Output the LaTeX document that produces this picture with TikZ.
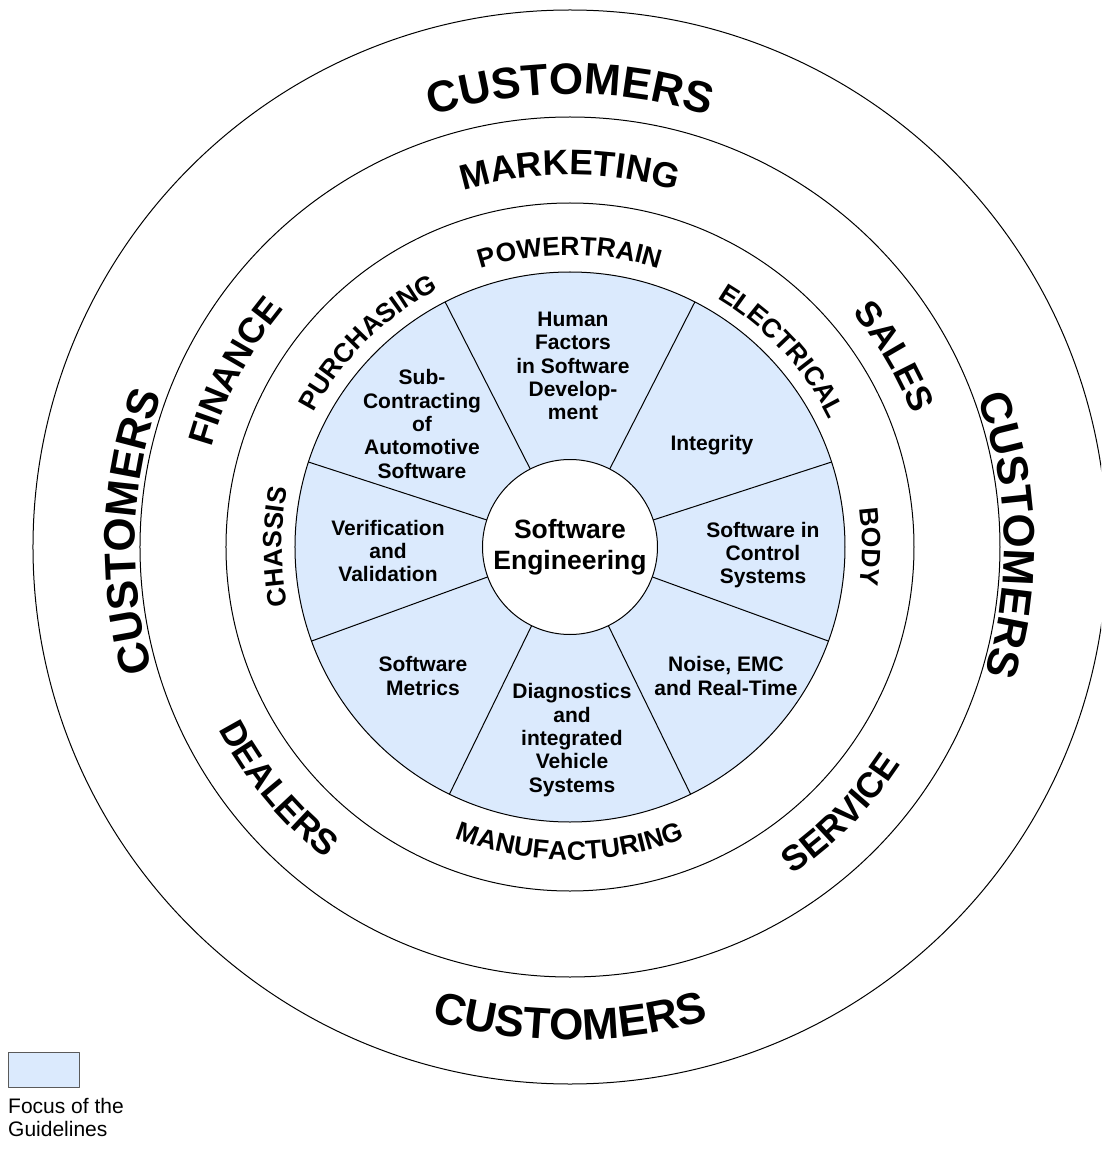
\documentclass[tikz,border=0pt]{standalone}
\usepackage{fontspec}
\setmainfont{Liberation Sans}
\usepackage{xcolor}
\usetikzlibrary{decorations.text}
\definecolor{focusblue}{RGB}{219,234,253}
\definecolor{keygray}{RGB}{90,90,90}
\newcommand{\custfont}{\fontsize{44}{50}\selectfont\bfseries}
\newcommand{\deptfont}{\fontsize{35.5}{40}\selectfont\bfseries}
\newcommand{\areafont}{\fontsize{26.5}{30}\selectfont\bfseries}
% ring label, letters pointing outwards: angle, baseline radius, font, text
\newcommand{\ringout}[4]{%
  \path[decorate,decoration={text along path,text align=center,text={|#3|#4}}]
    (#1+40:#2) arc[start angle=#1+40,end angle=#1-40,radius=#2];}
% ring label, letters pointing inwards
\newcommand{\ringin}[4]{%
  \path[decorate,decoration={text along path,text align=center,text={|#3|#4}}]
    (#1-40:#2) arc[start angle=#1-40,end angle=#1+40,radius=#2];}

\begin{document}
\begin{tikzpicture}[x=1pt,y=1pt,line cap=round,line join=round,
  ring/.style={draw=black,line width=1pt},
  topic/.style={font=\fontsize{21}{23.3}\selectfont\bfseries,align=center,inner sep=0pt}]
\clip (-570,-602) rectangle (531,547);

% rings
\draw[ring] (0,0) circle[radius=537];
\draw[ring] (0,0) circle[radius=430];
\draw[ring] (0,0) circle[radius=344];
\draw[ring,fill=focusblue] (0,0) circle[radius=275];
\foreach \a in {18,63,117,162,200,244,296,340}
  \draw[ring] (\a:87.5) -- (\a:275);
\node[circle,ring,fill=white,minimum size=175pt,inner sep=0pt,align=center,
  font=\fontsize{26.5}{31}\selectfont\bfseries] (core) at (0,0) {Software\\Engineering};

% topics
\node[topic] (human) at (3,181) {Human\\Factors\\in Software\\Develop-\\ment};
\node[topic] (integrity) at (142,101.5) {Integrity};
\node[topic] (control) at (193,-8) {Software in\\Control\\Systems};
\node[topic] (noise) at (156,-129) {Noise, EMC\\and Real-Time};
\node[topic] (diag) at (2,-193) {Diagnostics\\and\\integrated\\Vehicle\\Systems};
\node[topic] (metrics) at (-147,-129) {Software\\Metrics};
\node[topic] (verif) at (-182,-4) {Verification\\and\\Validation};
\node[topic] (subcon) at (-148,123) {Sub-\\Contracting\\of\\Automotive\\Software};

% inner ring
\ringout{90}{292}{\areafont}{POWERTRAIN}
\ringout{42.8}{289}{\areafont}{ELECTRICAL}
\ringout{0}{292}{\areafont}{BODY}
\ringout{180}{288}{\areafont}{CHASSIS}
\ringout{134.7}{289}{\areafont}{PURCHASING}
\ringin{270}{313}{\areafont}{MANUFACTURING}

% middle ring
\ringout{90}{372}{\deptfont}{MARKETING}
\ringout{30.4}{367}{\deptfont}{SALES}
\ringout{152.4}{372}{\deptfont}{FINANCE}
\ringin{219.7}{396}{\deptfont}{DEALERS}
\ringin{-44.5}{396}{\deptfont}{SERVICE}

% outer ring
\ringout{90}{453}{\custfont}{CUSTOMERS}
\ringout{178}{435}{\custfont}{CUSTOMERS}
\ringout{1.6}{434}{\custfont}{CUSTOMERS}
\ringin{270}{493}{\custfont}{CUSTOMERS}

% key
\node[draw=keygray,line width=1pt,fill=focusblue,minimum width=71pt,minimum height=35pt,
  inner sep=0pt,anchor=north west] (focuskey) at (-562,-505) {};
\node[font=\fontsize{21}{23}\selectfont,align=left,inner sep=0pt,anchor=north west]
  (focustext) at ([yshift=-10pt]focuskey.south west) {Focus of the\\Guidelines};
\end{tikzpicture}
\end{document}
